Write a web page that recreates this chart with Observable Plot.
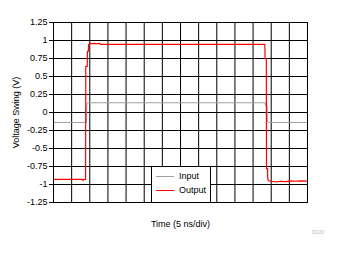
<!DOCTYPE html>
<html>
<head>
<meta charset="utf-8">
<script src="https://cdn.jsdelivr.net/npm/d3@7"></script>
<script src="https://cdn.jsdelivr.net/npm/@observablehq/plot@0.6"></script>
<style>
  html, body { margin: 0; padding: 0; background: #fff; }
  #wrap { position: relative; width: 340px; height: 254px; font-family: "Liberation Sans", Arial, sans-serif; }
  #legend { position: absolute; left: 151px; top: 166px; width: 58px; height: 35px; background: #fff; border: 1px solid #000; box-sizing: content-box; font-size: 9px; }
  .item { position: absolute; left: 4px; display: flex; align-items: center; }
  .sw { width: 18px; height: 0; margin-right: 5px; }
  #mark { position: absolute; left: 312px; top: 229px; font-size: 5px; color: #b8b8c8; }
</style>
</head>
<body>
<div id="wrap"></div>
<script>
// x in divisions (5 ns/div), y in volts
const seriesNames = ["Input", "Output"];
const seriesColors = ["#a0a0a0", "#ff0000"];

const inputTime = [0, 1.82, 1.83, 1.86, 1.87, 11.67, 11.68, 11.78, 11.79, 11.84, 14];
const inputVolt = [-0.138, -0.138, 0.10, 0.12, 0.135, 0.135, 0.10, 0.10, -0.12, -0.138, -0.138];

const outputTime = [0, 1.60, 1.63, 1.66, 1.77, 1.78, 1.86, 1.87, 1.92, 1.93, 1.98, 2.05, 2.15, 2.25, 2.4, 2.55, 2.6,
  11.65, 11.66, 11.73, 11.74, 11.8, 11.81, 11.88, 12.0, 12.3, 12.5, 12.8, 13.1, 13.3, 13.6, 14];
const outputVolt = [-0.93, -0.93, -0.945, -0.93, -0.93, 0.64, 0.64, 0.85, 0.85, 0.94, 0.95, 0.96, 0.955, 0.96, 0.955, 0.96, 0.945,
  0.945, 0.75, 0.75, -0.78, -0.78, -0.93, -0.95, -0.955, -0.965, -0.955, -0.96, -0.95, -0.955, -0.95, -0.952];

const xGrid = [0,1,2,3,4,5,6,7,8,9,10,11,12,13,14];
const yTicks = [-1.25, -1, -0.75, -0.5, -0.25, 0, 0.25, 0.5, 0.75, 1, 1.25];
const yTickLabels = ["-1.25", "-1", "-0.75", "-0.5", "-0.25", "0", "0.25", "0.5", "0.75", "1", "1.25"];

const xLabel = "Time (5 ns/div)";
const yLabel = "Voltage Swing (V)";

const inputData = inputTime.map((t, i) => ({t, v: inputVolt[i]}));
const outputData = outputTime.map((t, i) => ({t, v: outputVolt[i]}));

const chart = Plot.plot({
  width: 340,
  height: 254,
  marginLeft: 53,
  marginRight: 33,
  marginTop: 22,
  marginBottom: 52,
  style: { fontFamily: "'Liberation Sans', Arial, sans-serif", fontSize: "9px", color: "#000", background: "#fff" },
  x: { domain: [0, 14] },
  y: { domain: [-1.25, 1.25] },
  marks: [
    Plot.gridX(xGrid, { stroke: "#000", strokeOpacity: 1, strokeWidth: 1 }),
    Plot.gridY(yTicks, { stroke: "#000", strokeOpacity: 1, strokeWidth: 1 }),
    Plot.line(inputData, { x: "t", y: "v", stroke: seriesColors[0], strokeWidth: 1 }),
    Plot.line(outputData, { x: "t", y: "v", stroke: seriesColors[1], strokeWidth: 1.2 }),
    Plot.frame({ stroke: "#000", strokeWidth: 1 }),
    Plot.axisY(yTicks, { tickSize: 4, tickPadding: 2, tickFormat: d => yTickLabels[yTicks.indexOf(d)],
      label: yLabel, labelAnchor: "center", labelArrow: "none", labelOffset: 41 }),
    Plot.axisX([], { label: xLabel, labelAnchor: "center", labelArrow: "none", labelOffset: 24, tickSize: 0 })
  ]
});

const wrap = document.getElementById("wrap");
wrap.appendChild(chart);

const legend = document.createElement("div");
legend.id = "legend";
seriesNames.forEach((name, i) => {
  const item = document.createElement("div");
  item.className = "item";
  item.style.top = (4 + i * 14) + "px";
  const sw = document.createElement("span");
  sw.className = "sw";
  sw.style.borderTop = (i === 1 ? "1.2px" : "1px") + " solid " + seriesColors[i];
  const lab = document.createElement("span");
  lab.textContent = name;
  item.appendChild(sw);
  item.appendChild(lab);
  legend.appendChild(item);
});
wrap.appendChild(legend);

const mark = document.createElement("div");
mark.id = "mark";
mark.textContent = "D020";
wrap.appendChild(mark);
</script>
</body>
</html>
